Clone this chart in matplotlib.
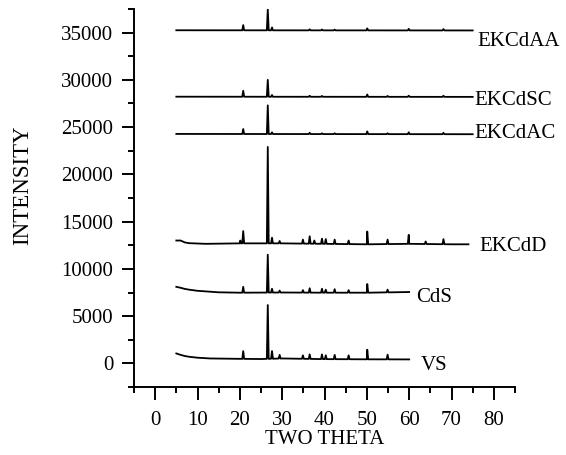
import numpy as np
import matplotlib
matplotlib.use("Agg")
import matplotlib.pyplot as plt
from matplotlib.ticker import MultipleLocator

plt.rcParams['font.family'] = ['Liberation Serif', 'DejaVu Serif']

# ---- data ----
names = ["VS", "CdS", "EKCdD", "EKCdAC", "EKCdSC", "EKCdAA"]

vs_base_x = [5, 6, 7, 8, 10, 13, 20, 25, 30, 40, 50, 60]
vs_base_y = [1050, 900, 780, 700, 600, 520, 480, 460, 520, 450, 430, 420]
vs_peak_x = [20.8, 26.6, 27.6, 29.4, 34.9, 36.5, 39.4, 40.3, 42.4, 45.7, 50.1, 54.9]
vs_peak_y = [1300, 6170, 1300, 900, 850, 950, 950, 850, 900, 850, 1450, 920]

cds_base_x = [5, 6, 7, 8, 10, 15, 20, 30, 40, 50, 60]
cds_base_y = [8100, 8000, 7880, 7800, 7680, 7520, 7480, 7500, 7480, 7480, 7550]
cds_peak_x = [20.8, 26.6, 27.6, 29.4, 34.9, 36.5, 39.4, 40.3, 42.4, 45.7, 50.1, 54.9]
cds_peak_y = [8100, 11500, 7900, 7700, 7750, 7950, 7900, 7800, 7850, 7750, 8400, 7800]

d_base_x = [5, 6, 7, 8, 12, 20, 30, 40, 50, 60, 70, 74]
d_base_y = [13000, 13000, 12800, 12720, 12650, 12700, 12700, 12650, 12600, 12650, 12600, 12600]
d_peak_x = [20.1, 20.8, 26.6, 27.6, 29.4, 34.9, 36.5, 37.6, 39.4, 40.3, 42.4, 45.7,
            50.1, 54.9, 59.9, 63.9, 68.1]
d_peak_y = [13000, 14000, 22900, 13300, 12950, 13100, 13450, 13000, 13200, 13150, 13100,
            13000, 13950, 13100, 13600, 12900, 13150]

ac_base_x = [5, 75]
ac_base_y = [24280, 24250]
ac_peak_x = [20.8, 26.6, 27.6, 36.5, 39.4, 42.4, 50.1, 54.9, 59.9, 68.1]
ac_peak_y = [24800, 27300, 24450, 24400, 24350, 24350, 24550, 24350, 24450, 24400]

sc_base_x = [5, 75]
sc_base_y = [28220, 28200]
sc_peak_x = [20.8, 26.6, 27.6, 36.5, 39.4, 50.1, 54.9, 59.9, 68.1]
sc_peak_y = [28850, 30000, 28400, 28320, 28300, 28450, 28300, 28330, 28320]

aa_base_x = [5, 75]
aa_base_y = [35250, 35230]
aa_peak_x = [20.8, 26.6, 27.6, 36.5, 39.4, 42.4, 50.1, 59.9, 68.1]
aa_peak_y = [35800, 37450, 35550, 35350, 35330, 35320, 35450, 35400, 35380]

label_x = [62.7, 61.6, 76.5, 75.3, 75.3, 76.0]
label_y = [-200, 7000, 12350, 24300, 27850, 34100]

series = [
    (vs_base_x, vs_base_y, vs_peak_x, vs_peak_y),
    (cds_base_x, cds_base_y, cds_peak_x, cds_peak_y),
    (d_base_x, d_base_y, d_peak_x, d_peak_y),
    (ac_base_x, ac_base_y, ac_peak_x, ac_peak_y),
    (sc_base_x, sc_base_y, sc_peak_x, sc_peak_y),
    (aa_base_x, aa_base_y, aa_peak_x, aa_peak_y),
]


def build_trace(bx, by, px, py, hw=0.22):
    pts = list(zip(bx, by))
    for p, top in zip(px, py):
        b = float(np.interp(p, bx, by))
        pts += [(p - hw, b), (p, top), (p + hw, b)]
    pts.sort(key=lambda t: t[0])
    xs, ys = zip(*pts)
    return np.array(xs), np.array(ys)


fig = plt.figure(figsize=(5.66, 4.55), dpi=100)
ax = fig.add_axes([134 / 566, 1 - 387 / 455, 381 / 566, 378 / 455])

for (bx, by, px, py), name, lx, ly in zip(series, names, label_x, label_y):
    xs, ys = build_trace(bx, by, px, py)
    ax.plot(xs, ys, color="black", lw=1.3)
    ax.text(lx, ly, name, fontsize=15, va="center", ha="left")

ax.set_xlim(-5, 85)
ax.set_ylim(-2500, 37500)
ax.xaxis.set_major_locator(MultipleLocator(10))
ax.xaxis.set_minor_locator(MultipleLocator(5))
ax.yaxis.set_major_locator(MultipleLocator(5000))
ax.yaxis.set_minor_locator(MultipleLocator(2500))
ax.set_xticks(np.arange(0, 81, 10))

for s in ["top", "right"]:
    ax.spines[s].set_visible(False)
for s in ["left", "bottom"]:
    ax.spines[s].set_linewidth(1.4)

ax.tick_params(which="major", length=9, width=1.4, labelsize=15, direction="out")
ax.tick_params(which="minor", length=4.5, width=1.4, direction="out")
ax.tick_params(axis="y", pad=6)
ax.tick_params(axis="x", pad=8)

ax.set_xlabel("TWO THETA", fontsize=15, labelpad=0)
ax.set_ylabel("INTENSITY", fontsize=16.5)
ax.yaxis.set_label_coords(-0.265, 0.534)

fig.savefig("out.png", dpi=100)
